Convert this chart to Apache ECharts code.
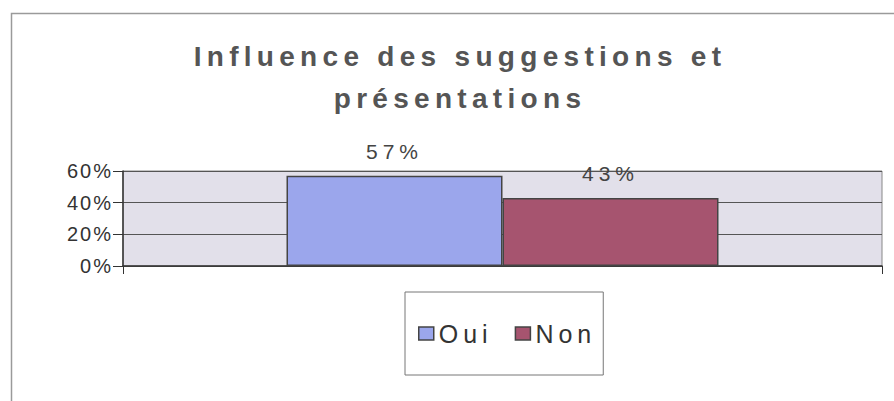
<!DOCTYPE html>
<html lang="fr">
<head>
    <meta charset="UTF-8">
    <title>Influence des suggestions et présentations</title>
    <script src="https://cdn.jsdelivr.net/npm/echarts@6/dist/echarts.min.js"></script>
    <style>
        html, body { margin: 0; padding: 0; background: #fff; }
        #main { width: 894px; height: 401px; }
        /* espacement des lettres comme dans l'original (rendu svg) */
        #main text[style*="28px"] { letter-spacing: 5.3px; }
        #main text[style*="21px"] { letter-spacing: 5px; }
        #main text[style*="25px"] { letter-spacing: 5px; }
        #main text[style*="20px"] { letter-spacing: 2px; }
    </style>
</head>
<body>
<div id="main"></div>
<script>
    // données
    var categories = [''];
    var seriesNames = ['Oui', 'Non'];
    var ouiValues = [57];
    var nonValues = [43];
    var yTicks = [0, 20, 40, 60];

    var myChart = echarts.init(document.getElementById('main'), null, { renderer: 'svg' });

    var labelStyle = {
        show: true,
        position: 'top',
        distance: 14,
        formatter: '{c}%',
        color: '#444',
        fontSize: 21,
        fontFamily: 'Liberation Sans'
    };

    var option = {
        animation: false,
        title: {
            text: 'Influence des suggestions et\nprésentations',
            left: 460,
            textAlign: 'center',
            top: 35,
            padding: 0,
            textStyle: {
                color: '#555',
                fontSize: 28,
                fontWeight: 'bold',
                fontFamily: 'Liberation Sans',
                lineHeight: 42
            }
        },
        // cadre du graphique
        graphic: [{
            type: 'rect',
            left: 9,
            top: 11,
            shape: { width: 900, height: 400 },
            style: { fill: 'none', stroke: '#9a9a9a', lineWidth: 1.5 },
            silent: true
        }],
        legend: {
            data: seriesNames,
            left: 405,
            top: 292,
            padding: [29, 22, 29, 13],
            itemGap: 37,
            itemWidth: 15,
            itemHeight: 13,
            icon: 'rect',
            itemStyle: { borderColor: '#444', borderWidth: 1.5 },
            borderColor: '#777',
            borderWidth: 1,
            textStyle: {
                color: '#333',
                fontSize: 25,
                fontFamily: 'Liberation Sans'
            }
        },
        grid: {
            left: 123,
            right: 12,
            top: 171,
            height: 95,
            show: true,
            backgroundColor: '#e2e0ea',
            borderColor: '#888',
            borderWidth: 1
        },
        xAxis: {
            type: 'category',
            data: categories,
            axisLine: { lineStyle: { color: '#333', width: 1.5 } },
            axisTick: { show: true, length: 8, lineStyle: { color: '#333' } },
            axisLabel: { show: false }
        },
        yAxis: {
            type: 'value',
            min: yTicks[0],
            max: yTicks[yTicks.length - 1],
            interval: yTicks[1] - yTicks[0],
            axisLine: { show: true, lineStyle: { color: '#333', width: 1.5 } },
            axisTick: { show: true, length: 10, lineStyle: { color: '#333' } },
            axisLabel: {
                formatter: '{value}%',
                color: '#333',
                fontSize: 20,
                fontFamily: 'Liberation Sans',
                margin: 10
            },
            splitLine: { lineStyle: { color: '#555', width: 1 } }
        },
        series: [{
            name: seriesNames[0],
            type: 'bar',
            data: ouiValues,
            barWidth: 216,
            barGap: '0%',
            itemStyle: { color: '#9ba6ec', borderColor: '#444', borderWidth: 1.5 },
            label: labelStyle
        }, {
            name: seriesNames[1],
            type: 'bar',
            data: nonValues,
            barWidth: 216,
            barGap: '0%',
            itemStyle: { color: '#a6546f', borderColor: '#444', borderWidth: 1.5 },
            label: labelStyle
        }]
    };

    myChart.setOption(option);

    window.addEventListener('resize', function () {
        myChart.resize();
    });
</script>
</body>
</html>
